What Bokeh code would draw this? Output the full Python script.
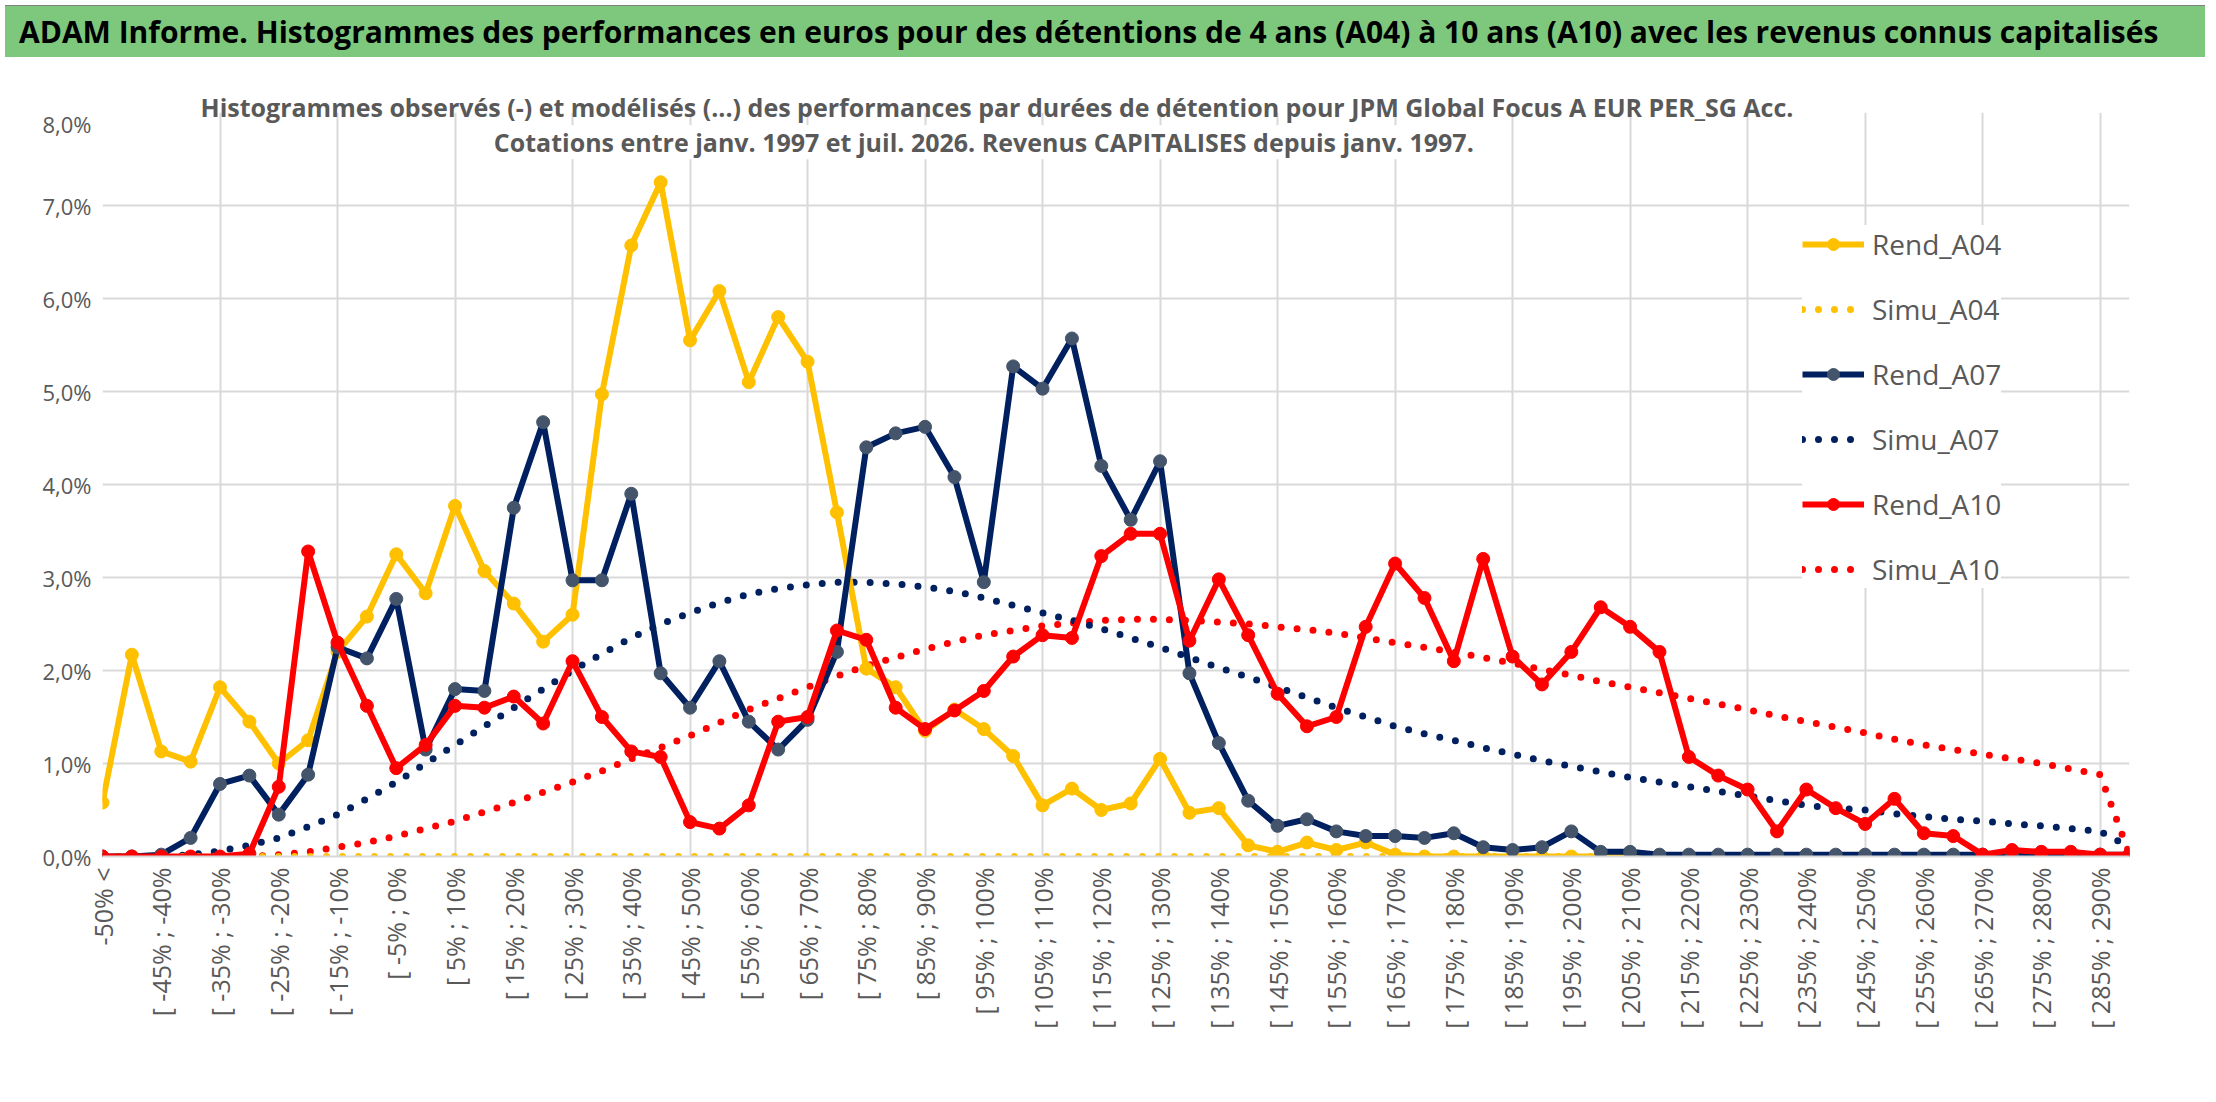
from bokeh.plotting import figure
from bokeh.models import Range1d, FixedTicker, Label, Div, Legend, LegendItem, Grid
from bokeh.layouts import column
from bokeh.embed import file_html
from bokeh.resources import INLINE
import math

categories = ["-50% <"] + [f"[ {-50 + 5 * k}% ; {-45 + 5 * k}%" for k in range(69)]

rend_a04 = [0.58, 2.17, 1.13, 1.02, 1.82, 1.45, 1.0, 1.25, 2.2, 2.58, 3.25, 2.83, 3.77, 3.07, 2.72, 2.31, 2.6, 4.97,
            6.57, 7.25, 5.55, 6.08, 5.1, 5.8, 5.32, 3.7, 2.02, 1.82, 1.35, 1.58, 1.37, 1.08, 0.55, 0.73, 0.5, 0.57,
            1.05, 0.47, 0.52, 0.12, 0.05, 0.15, 0.07, 0.15, 0.02, 0, 0, 0, 0, 0, 0, 0, 0, 0, 0, 0, 0, 0, 0, 0, 0,
            0, 0, 0, 0, 0, 0, 0, 0, 0]
simu_a04 = [0.0] * 70
rend_a07 = [0, 0, 0.02, 0.2, 0.78, 0.87, 0.45, 0.88, 2.25, 2.13, 2.77, 1.15, 1.8, 1.78, 3.75, 4.67, 2.97, 2.97, 3.9,
            1.97, 1.6, 2.1, 1.45, 1.15, 1.47, 2.2, 4.4, 4.55, 4.62, 4.08, 2.95, 5.27, 5.03, 5.57, 4.2, 3.62, 4.25,
            1.97, 1.22, 0.6, 0.33, 0.4, 0.27, 0.22, 0.22, 0.2, 0.25, 0.1, 0.07, 0.1, 0.27, 0.05, 0.05, 0.02, 0.02,
            0.02, 0.02, 0.02, 0.02, 0.02, 0.02, 0.02, 0.02, 0.02, 0.02, 0.02, 0.02, 0.02, 0.02, 0.02]
simu_a07 = [0, 0, 0, 0.02, 0.06, 0.12, 0.2, 0.32, 0.45, 0.62, 0.8, 1.0, 1.2, 1.4, 1.6, 1.8, 2.0, 2.18, 2.35, 2.5,
            2.62, 2.73, 2.82, 2.88, 2.92, 2.95, 2.95, 2.93, 2.9, 2.85, 2.78, 2.7, 2.62, 2.54, 2.45, 2.35, 2.25, 2.14,
            2.03, 1.93, 1.82, 1.71, 1.6, 1.5, 1.4, 1.32, 1.25, 1.17, 1.1, 1.03, 0.97, 0.91, 0.85, 0.8, 0.75, 0.7,
            0.65, 0.6, 0.55, 0.52, 0.5, 0.46, 0.43, 0.4, 0.38, 0.35, 0.33, 0.3, 0.27, 0.1]
rend_a10 = [0, 0, 0, 0, 0, 0.03, 0.75, 3.28, 2.3, 1.62, 0.95, 1.2, 1.62, 1.6, 1.72, 1.43, 2.1, 1.5, 1.13, 1.07, 0.37,
            0.3, 0.55, 1.45, 1.5, 2.43, 2.33, 1.6, 1.37, 1.57, 1.78, 2.15, 2.38, 2.35, 3.23, 3.47, 3.47, 2.32, 2.98,
            2.38, 1.75, 1.4, 1.5, 2.47, 3.15, 2.78, 2.1, 3.2, 2.15, 1.85, 2.2, 2.68, 2.47, 2.2, 1.07, 0.87, 0.72,
            0.27, 0.72, 0.52, 0.35, 0.62, 0.25, 0.22, 0.02, 0.07, 0.05, 0.05, 0.02, 0.02]
simu_a10 = [0, 0, 0, 0, 0, 0, 0.02, 0.05, 0.1, 0.15, 0.22, 0.3, 0.38, 0.48, 0.58, 0.69, 0.8, 0.92, 1.05, 1.17, 1.3,
            1.44, 1.58, 1.7, 1.82, 1.94, 2.05, 2.14, 2.23, 2.31, 2.38, 2.43, 2.48, 2.51, 2.54, 2.55, 2.55, 2.54,
            2.52, 2.5, 2.47, 2.44, 2.4, 2.35, 2.3, 2.25, 2.2, 2.14, 2.08, 2.01, 1.95, 1.88, 1.82, 1.76, 1.7, 1.64,
            1.58, 1.51, 1.45, 1.39, 1.33, 1.26, 1.2, 1.15, 1.1, 1.05, 1.0, 0.94, 0.88, 0.02]
y_ticks = [0, 1, 2, 3, 4, 5, 6, 7, 8]

YEL, NAVY, RED = "#FFC000", "#002060", "#FF0000"
GRID = "#D9D9D9"
TXT = "#595959"
FONT = "Open Sans"

x = list(range(len(categories)))

banner = Div(
    text="ADAM Informe. Histogrammes des performances en euros pour des détentions de 4 ans (A04) à 10 ans (A10) avec les revenus connus capitalisés",
    width=2200, height=52,
    styles={"background-color": "#7DC87D", "font-family": FONT, "font-weight": "bold", "font-size": "30px",
            "color": "#000000", "line-height": "52px", "padding-left": "14px", "white-space": "nowrap",
            "box-sizing": "border-box", "width": "2200px", "border-top": "1px solid #808080"})

sub1 = Div(
    text="Histogrammes observés (-) et modélisés (...) des performances par durées de détention pour JPM Global Focus A EUR PER_SG Acc.",
    width=1984, height=36,
    styles={"font-family": FONT, "font-weight": "bold", "font-size": "25px", "color": TXT,
            "line-height": "34px", "padding-top": "23px", "text-align": "center", "white-space": "nowrap",
            "box-sizing": "border-box", "width": "1984px", "overflow": "visible", "z-index": "10"})

H = 984
p = figure(width=2200, height=H, output_backend="svg", toolbar_location=None,
           x_range=Range1d(0, len(categories) - 1), y_range=Range1d(0, 8),
           min_border_left=102, min_border_right=71, min_border_top=4, min_border_bottom=236,
           background_fill_color="white", border_fill_color="white", outline_line_color=None)

p.xaxis.ticker = FixedTicker(ticks=x[::2])
p.xaxis.major_label_overrides = {i: categories[i] for i in x}
p.xaxis.major_label_orientation = math.pi / 2
p.xaxis.major_label_text_font = FONT
p.xaxis.major_label_text_font_size = "25px"
p.xaxis.major_label_text_color = TXT
p.xaxis.axis_line_color = GRID
p.xaxis.axis_line_width = 2
p.xaxis.major_tick_line_color = None
p.xaxis.minor_tick_line_color = None
p.xgrid.grid_line_color = None
p.add_layout(Grid(dimension=0, ticker=FixedTicker(ticks=x[::4]), grid_line_color=GRID, grid_line_width=2))

p.yaxis.ticker = FixedTicker(ticks=y_ticks)
p.yaxis.major_label_overrides = {t: f"{t},0%" for t in y_ticks}
p.yaxis.major_label_text_font = FONT
p.yaxis.major_label_text_font_size = "22px"
p.yaxis.major_label_text_color = TXT
p.yaxis.axis_line_color = None
p.yaxis.major_tick_line_color = None
p.yaxis.minor_tick_line_color = None
p.ygrid.grid_line_color = GRID
p.ygrid.grid_line_width = 2

dots = dict(line_width=7, line_dash="0 16", line_cap="round")
s10 = p.line(x, simu_a10, line_color=RED, **dots)
s07 = p.line(x, simu_a07, line_color=NAVY, **dots)
s04 = p.line(x, simu_a04, line_color=YEL, **dots)

l04 = p.line(x, rend_a04, line_color=YEL, line_width=6)
m04 = p.scatter(x, rend_a04, size=13, fill_color=YEL, line_color=YEL)
l07 = p.line(x, rend_a07, line_color=NAVY, line_width=6)
m07 = p.scatter(x, rend_a07, size=13, fill_color="#44546A", line_color="#44546A")
l10 = p.line(x, rend_a10, line_color=RED, line_width=6)
m10 = p.scatter(x, rend_a10, size=13, fill_color=RED, line_color=RED)

legend = Legend(items=[
    LegendItem(label="Rend_A04", renderers=[l04, m04]),
    LegendItem(label="Simu_A04", renderers=[s04]),
    LegendItem(label="Rend_A07", renderers=[l07, m07]),
    LegendItem(label="Simu_A07", renderers=[s07]),
    LegendItem(label="Rend_A10", renderers=[l10, m10]),
    LegendItem(label="Simu_A10", renderers=[s10]),
], location=(1700, 268), background_fill_color="white", background_fill_alpha=1,
    border_line_color=None, label_text_font=FONT, label_text_font_size="28px", label_text_color=TXT,
    glyph_width=62, glyph_height=30, spacing=27, padding=14, label_standoff=8)
p.add_layout(legend, "center")

p.add_layout(Label(x=30.0, y=7.68,
                   text="Cotations entre janv. 1997 et juil. 2026. Revenus CAPITALISES depuis janv. 1997.",
                   text_align="center", text_baseline="middle",
                   text_font=FONT, text_font_style="bold", text_font_size="25px", text_color=TXT,
                   background_fill_color="white", background_fill_alpha=1))

layout = column(banner, sub1, p, spacing=0)
open("out.html", "w").write(file_html(layout, INLINE))
